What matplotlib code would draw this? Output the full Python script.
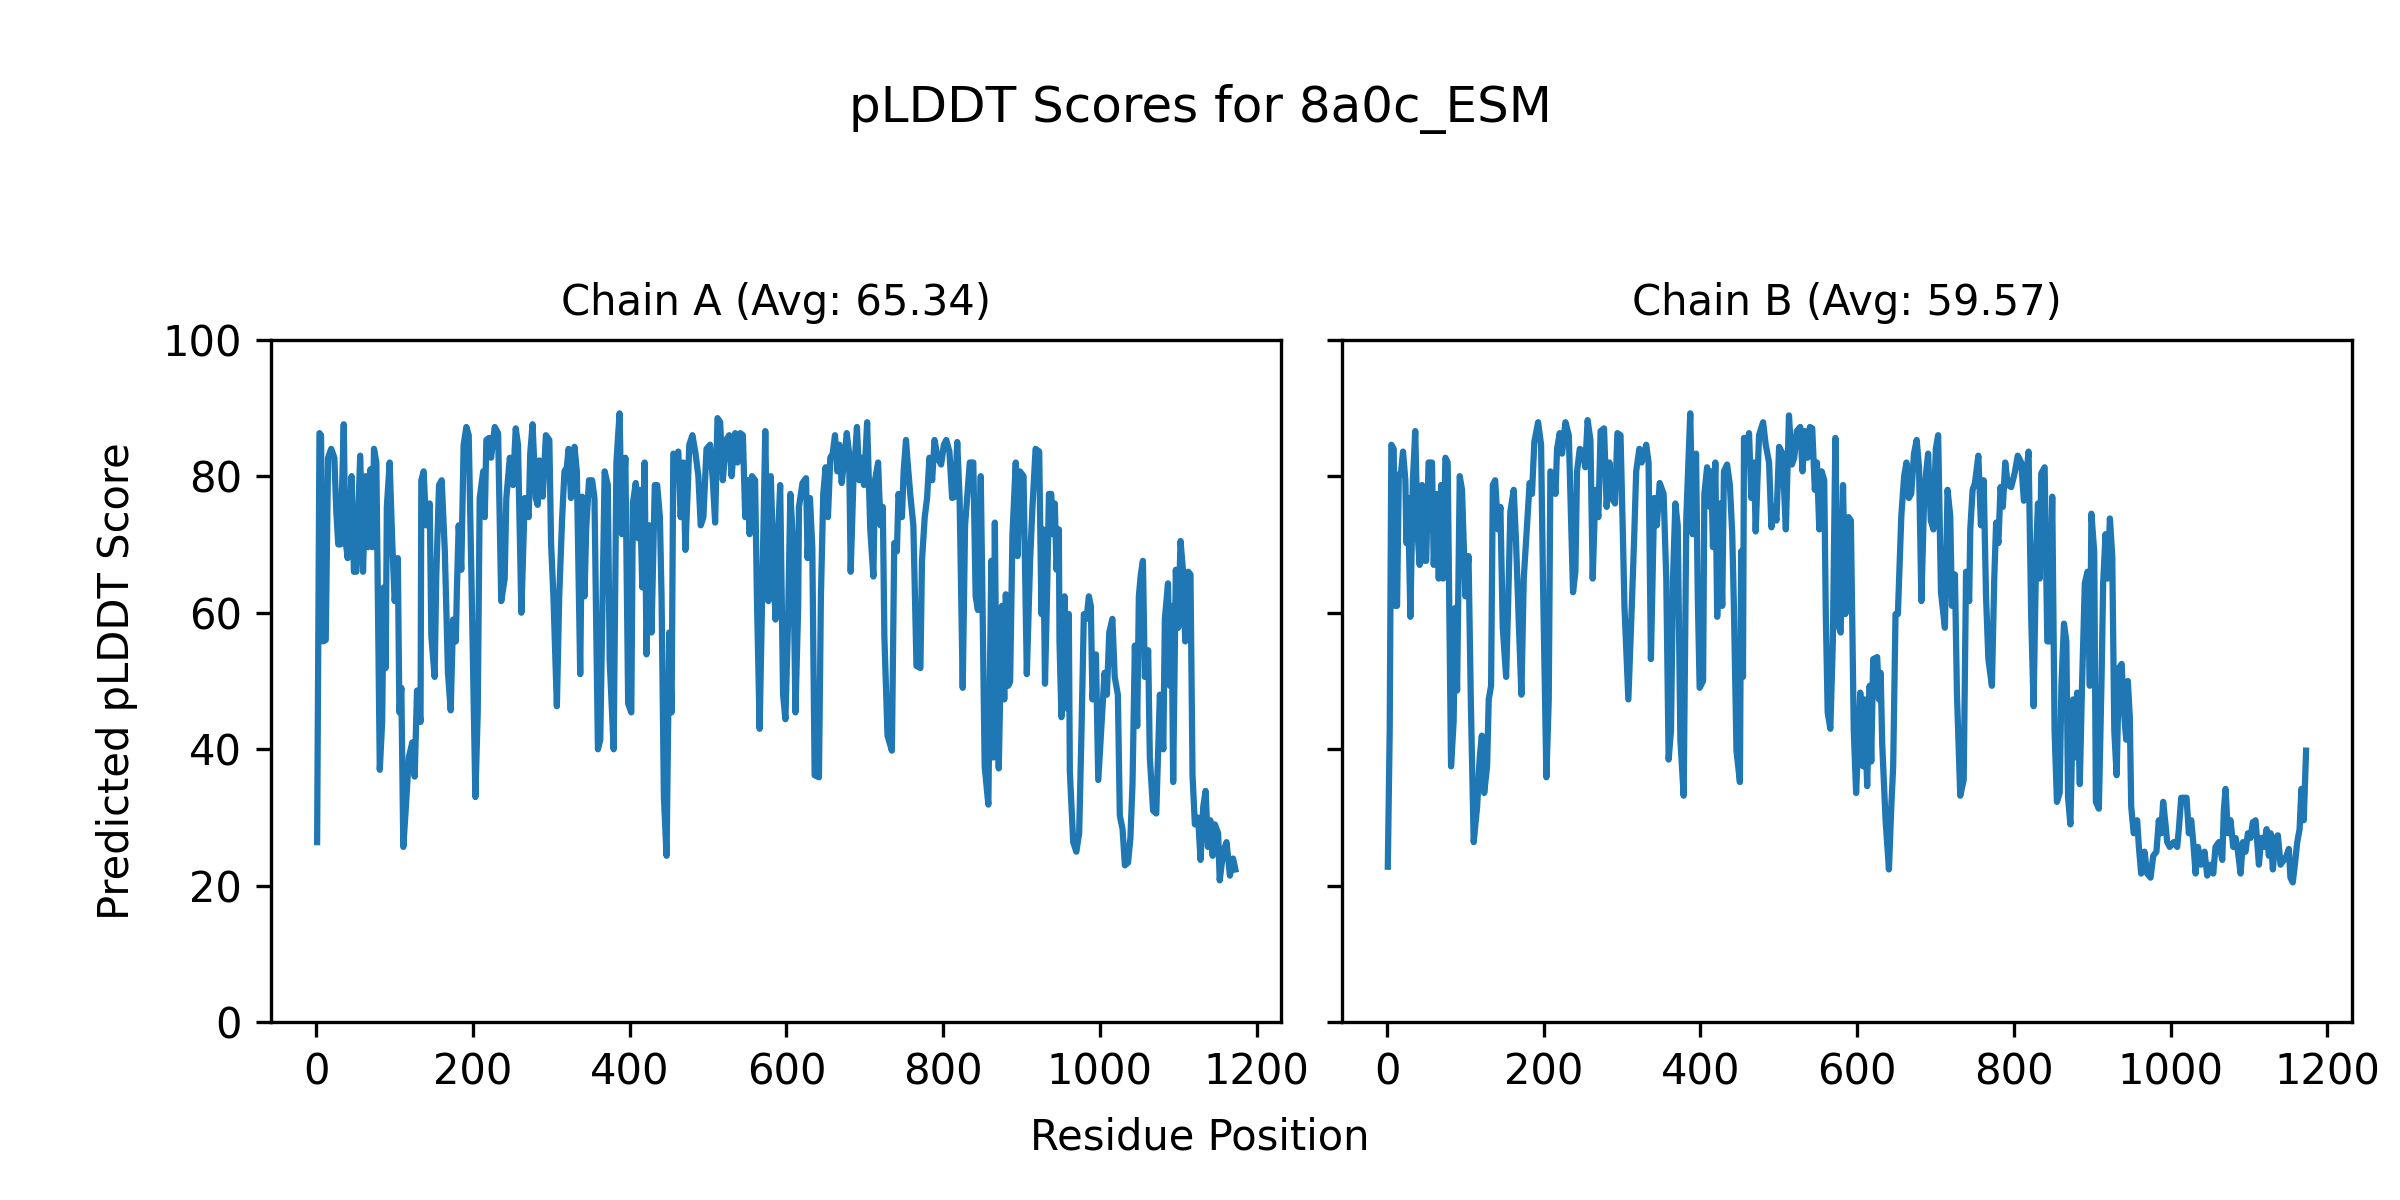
import numpy as np
import matplotlib
matplotlib.use("Agg")
import matplotlib.pyplot as plt

# %% data (residue position, pLDDT)
chain_names = ["A", "B"]
chain_avgs = [65.34, 59.57]
title = "pLDDT Scores for 8a0c_ESM"

pos_a = [1, 4, 6, 8.5, 12, 15, 19, 23, 25.5, 28, 31, 35, 37, 40, 45, 48, 51, 56, 59.6, 63,
         66, 69, 71.5, 73.6, 76.6, 81, 84, 86, 88.5, 90, 93.6, 97, 100, 104, 106, 108.5, 111, 114, 118, 122.5,
         125.5, 128.5, 133, 134, 137, 140, 144.7, 146.8, 151, 153, 156.6, 160, 164, 168, 171.5, 174.5, 178, 179.6, 181.7, 185,
         188, 191.5, 194.5, 198, 203, 206, 208.5, 213, 215, 217, 220.4, 223, 227.7, 232, 236, 240.4, 242.5, 247, 251, 254.5,
         257.4, 261.7, 266, 271, 273, 276, 280, 282.5, 284.6, 289, 293, 297.4, 299.6, 302.6, 307, 310, 313.7, 316.7, 319.7, 322,
         325, 329.5, 332.5, 336.8, 339.3, 342.3, 344.4, 348, 352, 355, 359.4, 362.4, 368, 372, 374.4, 379.5, 383, 387, 390, 394.4,
         398, 402, 404, 407.7, 410.7, 413, 416, 419, 421.4, 424.8, 427.8, 430, 432, 435, 438.5, 440.6, 443.6, 447, 450.4, 453.4,
         455.6, 459, 462, 465, 468.4, 471, 474, 476, 480, 484, 487.6, 490.6, 494, 498, 502.6, 506, 509, 512, 515.4, 518.8,
         523, 527, 530, 534.6, 537.6, 541, 544.4, 547.4, 550.4, 553, 556, 560, 562.4, 565.8, 569, 573, 575, 577, 580, 583,
         586, 589, 592, 595.7, 598.7, 602, 605, 608.5, 611.5, 615, 616, 620.5, 625, 627, 630, 633, 636, 641.5, 644, 647,
         650, 653, 656, 659, 662, 665, 667.5, 670.5, 673.5, 677, 680, 682, 685.5, 690, 693, 696, 699, 703, 707, 711,
         713, 717, 720, 723, 725, 729, 734.6, 737.6, 741, 743, 747.4, 749.6, 752.6, 754.7, 758, 762, 766, 771, 773, 776.5,
         779.5, 782.5, 786, 789, 793, 797.4, 801, 804, 808, 811.5, 815, 818, 821, 825, 828, 831, 834, 838.5, 841.5, 844.4,
         848, 850, 853, 857.7, 861.5, 864, 866, 868, 871, 875, 878, 880, 883, 885.5, 888.5, 892.7, 895, 898, 902.6, 906.8,
         911, 914, 918, 922.6, 925.5, 927.7, 930, 932.8, 935, 938, 940, 942.5, 944.7, 947.7, 948.5, 951, 955, 958, 960.4, 961.7,
         966, 970, 973.6, 976.6, 979.6, 983, 986, 988.5, 990.6, 995, 998, 1002, 1006, 1009, 1012, 1016, 1019, 1023, 1025.5, 1029,
         1032, 1036, 1039, 1041.7, 1044.7, 1047.7, 1049.8, 1052.3, 1055, 1057.4, 1061.7, 1063.8, 1068, 1072, 1076.6, 1081, 1083, 1087, 1089.4, 1091.5,
         1093.6, 1097, 1100, 1103, 1106, 1109, 1112.8, 1115.7, 1118.3, 1121.3, 1125.5, 1128.5, 1132, 1135, 1138, 1141, 1144, 1146.8, 1151, 1153,
         1157.4, 1161.7, 1166, 1170, 1173]
plddt_a = [26.4, 86.3, 86, 55.8, 56, 82.7, 84, 82.7, 74.8, 70, 70, 87.6, 70.9, 68, 80, 66, 66, 83, 66, 80,
           69.6, 81, 69.6, 84, 82, 37, 44, 63.7, 51.9, 75.5, 82, 70, 61.7, 68, 45.4, 49, 25.7, 31, 38.8, 41,
           36, 48.6, 44, 79.4, 80.7, 72.8, 76, 56.5, 50.6, 65, 78.7, 79.4, 69, 51.2, 45.7, 59, 55.8, 64.3, 72.8, 66.3,
           84.6, 87.2, 86, 65, 33, 45.4, 76.8, 80.7, 74, 85.3, 85.6, 82.7, 87.2, 86.3, 61.7, 65, 76.8, 82.7, 78.7, 87,
           84.6, 60, 76.8, 74, 83.3, 87.6, 76.8, 75.8, 82.3, 77, 86, 85.3, 70.2, 62.4, 46.3, 62.4, 73.8, 80.7, 81.3, 84,
           76.8, 84.3, 80.7, 51, 77, 62.4, 72.2, 79.4, 79.4, 76.8, 40, 41.4, 80.7, 78.7, 53, 40, 82, 89.2, 71.5, 82.7,
           46.7, 45.4, 76, 79, 70.9, 78, 63.7, 82, 53.9, 72.8, 57.1, 68.3, 78.7, 78.7, 74, 62.4, 33, 24.4, 57.1, 45.4,
           83.3, 83, 83.6, 74, 82, 69.2, 78, 84.6, 86, 83.3, 80, 72.8, 74, 84, 84.6, 79.4, 73.2, 88.5, 87.9, 79.4,
           85.3, 86, 80, 86.3, 82, 86.3, 86, 74, 79.4, 71.5, 80, 79.4, 61.7, 43, 62.4, 86.6, 72.2, 61.7, 80, 69,
           59, 70.2, 78.7, 48, 44.4, 58.4, 77.4, 70.2, 45.4, 61, 75.5, 79, 79.7, 68, 76.8, 69.6, 36.2, 35.9, 62.4, 77.4,
           81.3, 74, 82.7, 83.3, 86, 80.7, 84.6, 79, 82, 86.3, 83.3, 66, 79.4, 87.2, 79.4, 82.7, 78.7, 87.9, 72.2, 65.3,
           79.4, 82, 72.8, 75.5, 56.5, 42, 39.8, 70.2, 69, 77.4, 74, 80.7, 85.3, 82, 77.4, 72.8, 52.2, 51.9, 67.6, 74,
           76.8, 82.7, 79.4, 85.3, 82.7, 81.7, 84.6, 85.3, 83.6, 76.8, 77, 85, 76.8, 49, 72.8, 77.4, 82, 82, 62.4, 60.4,
           80, 63.7, 37.5, 31.9, 67.6, 38.8, 73.2, 48, 37.2, 61, 47.3, 62.7, 49.3, 49.9, 71.5, 82, 68.3, 80.7, 80, 51,
           67.6, 75.5, 84, 83.6, 59.8, 72.2, 49.6, 63.7, 77.4, 77.4, 71.5, 76, 66.3, 72.2, 55.8, 44.7, 62.4, 46, 59.8, 36.8,
           26.4, 25, 27.7, 42.7, 59.8, 59.1, 62.4, 61, 47.3, 53.9, 35.5, 43.4, 51.2, 48, 57.1, 59.1, 50.6, 48, 30.3, 28.3,
           23, 23.4, 27, 34.9, 55.2, 43.4, 62.4, 65.6, 67.6, 50.6, 54.5, 38.8, 31, 30.6, 48, 40, 59.1, 64.3, 49.3, 61,
           35.2, 66.3, 57.8, 70.5, 66.3, 55.8, 66, 65.6, 36.2, 29, 30, 23.8, 31.6, 33.9, 25.7, 29.6, 24.4, 29, 27.7, 20.8,
           25, 26.4, 21.5, 24, 22.4]

pos_b = [1, 3.4, 5.5, 8.5, 10.6, 12.8, 15, 18, 20.4, 23.4, 24.7, 26.8, 29.8, 33, 36, 39, 41.7, 44.7, 47.7, 50,
         53, 57.4, 59.6, 63.8, 66, 69, 71.5, 74.5, 77.4, 81.7, 85, 87, 89.4, 92.8, 95.7, 100, 104, 107, 110.6, 115,
         118.3, 121, 124, 127.7, 129.8, 132.8, 135, 138, 141.7, 144.7, 147.7, 152, 154.5, 157.4, 161.7, 164.7, 168, 171.5, 174.5, 178.7,
         182, 185, 188, 192.8, 196.6, 199, 203.4, 206.4, 208.5, 212.8, 215, 217, 220.4, 223.4, 227.7, 232, 237.4, 240.4, 242.5, 246,
         250, 253, 256, 259.6, 262.5, 266, 269.7, 272.6, 277, 280.3, 283.8, 286.8, 291, 294, 298, 301, 303, 308, 312.4, 315.4,
         318, 322, 325, 330.8, 333.8, 336.8, 339.3, 341, 344.4, 348, 353, 356.4, 359.4, 362.4, 365, 368, 371, 374.4, 378.6, 382,
         387, 390, 394.4, 396.6, 399, 403.4, 405, 408.5, 412, 413.7, 416, 419, 421.4, 424.8, 427.8, 430, 434, 437.6, 440.6, 442.7,
         446, 450.4, 452, 454.3, 455.6, 459, 462, 465, 468.4, 470.5, 474.8, 480, 483.3, 487.6, 490.6, 494, 497, 500.4, 504.7, 509,
         513, 516.7, 519.7, 523, 527.4, 530.3, 533.3, 536.8, 539.7, 542.7, 546, 548.7, 551.7, 554.7, 558, 560, 562.4, 565.8, 569, 572.2,
         575.6, 579, 582, 585, 589, 592, 595.7, 598.7, 604, 607.7, 609.4, 612.8, 616, 618, 620.5, 625.6, 627.8, 630, 632, 636.3,
         640.6, 643.6, 646, 649, 652, 653.4, 656.4, 660, 663, 666, 669, 672.6, 676, 679, 682, 685.5, 687.6, 690.6, 694, 697.4,
         700.4, 703.4, 707, 712, 715.4, 718.8, 721, 724.8, 727.4, 731.6, 736, 739, 743, 744.4, 747.4, 750.4, 754.7, 758, 761.5, 764.5,
         767.5, 772, 775, 777.4, 780.3, 783, 786, 789, 792.3, 796.6, 801, 805, 809.4, 812.8, 815.8, 818.8, 822.2, 825.2, 828.6, 830.8,
         833, 835, 839.3, 842.7, 845.7, 849, 852, 855, 858.5, 860.7, 864, 867, 869.2, 872.2, 875.6, 877.8, 880.8, 884.2, 887, 890.6,
         894, 897, 899, 902.6, 904.7, 908.5, 912, 914, 917, 919.7, 922.6, 925.6, 928.2, 931.2, 934.2, 937.6, 940.6, 943.4, 945.5, 948,
         949.8, 953, 957.4, 959.6, 962.5, 966.8, 970.2, 974.5, 977.9, 982, 985, 988, 990.6, 993.6, 995.7, 999, 1004, 1008.5, 1010.6, 1013.6,
         1017, 1020.4, 1023.4, 1026.4, 1029, 1032, 1035, 1039, 1043.4, 1046.8, 1051, 1054.5, 1057.4, 1061.7, 1066, 1068, 1070.2, 1073.2, 1076.6, 1080,
         1083, 1086, 1089.4, 1092.3, 1095.7, 1098.7, 1102, 1105, 1108.5, 1112.8, 1115.7, 1119, 1122.6, 1125.5, 1127.7, 1130.6, 1134, 1137, 1140.4, 1144.7,
         1148, 1151, 1153, 1156, 1158.7, 1161.7, 1164.7, 1167, 1170, 1173]
plddt_b = [22.8, 42.7, 84.6, 84, 61, 61, 80, 80.7, 83.6, 79.4, 70.2, 76.8, 59.4, 79.4, 86.6, 71.5, 67, 78.7, 67.6, 67.6,
           82, 82, 67, 77.4, 65, 78.7, 65, 82.7, 82, 37.5, 44, 60.7, 48.6, 80, 78, 62.4, 68.3, 46.7, 26.4, 31.6,
           38.8, 42, 33.6, 37.5, 47.3, 49.3, 78.7, 79.4, 72.2, 75.5, 57.8, 50.6, 61, 74.8, 78, 70.2, 59.1, 48, 65, 72.8,
           79, 77.4, 85, 87.9, 84.6, 65, 35.9, 47.3, 80.7, 80, 77.4, 84, 86.3, 83.3, 87.9, 86, 63, 66, 80.7, 84,
           83.6, 81.3, 88.2, 85.3, 65, 78, 74, 86.6, 87, 75.5, 82, 76.8, 76, 86.3, 86, 71.5, 61, 47.3, 61, 70.9,
           80.7, 84, 82, 84.6, 82, 53.2, 67.6, 76.8, 72.8, 79, 77.4, 65, 38.5, 42.7, 65, 76, 72.8, 41.4, 33.2, 74,
           89.2, 71.5, 83.3, 62.4, 49, 50, 77.4, 81.3, 75.5, 80.7, 69.6, 82, 59.4, 76, 61, 80.7, 81.7, 78.7, 71.5, 61,
           39.8, 35.2, 69, 50.6, 85.6, 82, 86.3, 76.8, 82, 71.9, 86, 87.9, 84.6, 82, 72.5, 75.5, 73.5, 84.3, 83.3, 72.2,
           88.9, 81.7, 82.7, 86.6, 87.2, 80.7, 86.6, 82.7, 87.2, 87, 78, 82, 72.2, 80.7, 79.4, 59.8, 45.4, 43, 55.8, 85.6,
           58.4, 57.1, 78.7, 59.8, 74, 73.5, 42.7, 33.6, 48.3, 37.5, 47.3, 34.6, 49.3, 38.2, 53.2, 53.5, 47.3, 51.2, 40.8, 29.6,
           22.4, 31.6, 37.5, 59.8, 59.8, 64.3, 74.2, 80, 82, 76.8, 77.4, 83.3, 85.3, 81.3, 61.7, 76.8, 80, 83.3, 73.5, 72.2,
           84, 86, 63, 57.8, 78, 74.2, 61, 65.6, 48, 33.2, 35.5, 66, 61.7, 72.2, 78, 79, 83, 72.8, 79.4, 62.4,
           53.2, 49.3, 65, 73.2, 70.2, 78.4, 75.5, 82, 78.7, 78.4, 80.4, 83, 82, 76.4, 80, 83.6, 59.1, 46.3, 69.6, 76,
           65, 80.4, 81.3, 55.8, 55.8, 77, 42.7, 32.3, 33.6, 49.3, 58.4, 55.8, 32.9, 29, 47.3, 38.8, 48.3, 34.9, 49.3, 64.3,
           66, 49.3, 74.5, 68.9, 32.3, 31.3, 50.6, 64.3, 71.5, 65, 73.8, 68.3, 42.7, 36.2, 51.9, 52.5, 45.4, 41.4, 50, 44.7,
           31.6, 27.7, 29.6, 25.7, 21.8, 25, 21.8, 21.2, 24.4, 25, 29.6, 27.7, 32.3, 29, 26.4, 25.7, 26.4, 25.7, 28.3, 32.9,
           32.9, 32.9, 27.7, 29.6, 26.4, 21.8, 25.7, 23.1, 25, 21.5, 23.1, 21.8, 25.7, 26.4, 23.8, 31, 34.2, 27.7, 29.6, 25.7,
           27, 25, 21.8, 26.4, 25, 27.7, 27, 29.3, 29.6, 23.1, 27, 25.7, 28.3, 24.4, 27.7, 22.4, 27, 27.4, 23.1, 23.8,
           24.4, 25.4, 21.2, 20.5, 23.1, 26.4, 28.3, 34.2, 29.6, 39.8]

# %%
positions = [pos_a, pos_b]
scores = [plddt_a, plddt_b]

fig, axes = plt.subplots(1, 2, figsize=(8, 4), dpi=300, sharey=True)
for ax, name, avg, x, y in zip(axes, chain_names, chain_avgs, positions, scores):
    ax.plot(np.array(x), np.array(y), color="#1f77b4", linewidth=1.5)
    ax.set_title(f"Chain {name} (Avg: {avg:.2f})", fontsize=10)
    ax.set_ylim(0, 100)
    ax.set_xticks([0, 200, 400, 600, 800, 1000, 1200])

axes[0].set_ylabel("Predicted pLDDT Score", labelpad=6)
fig.suptitle(title, fontsize=12, y=0.93)
fig.supxlabel("Residue Position", fontsize=10, y=0.035)
plt.subplots_adjust(left=0.113, right=0.98, bottom=0.148, top=0.717, wspace=0.06)
plt.savefig("out.png", dpi=300)
